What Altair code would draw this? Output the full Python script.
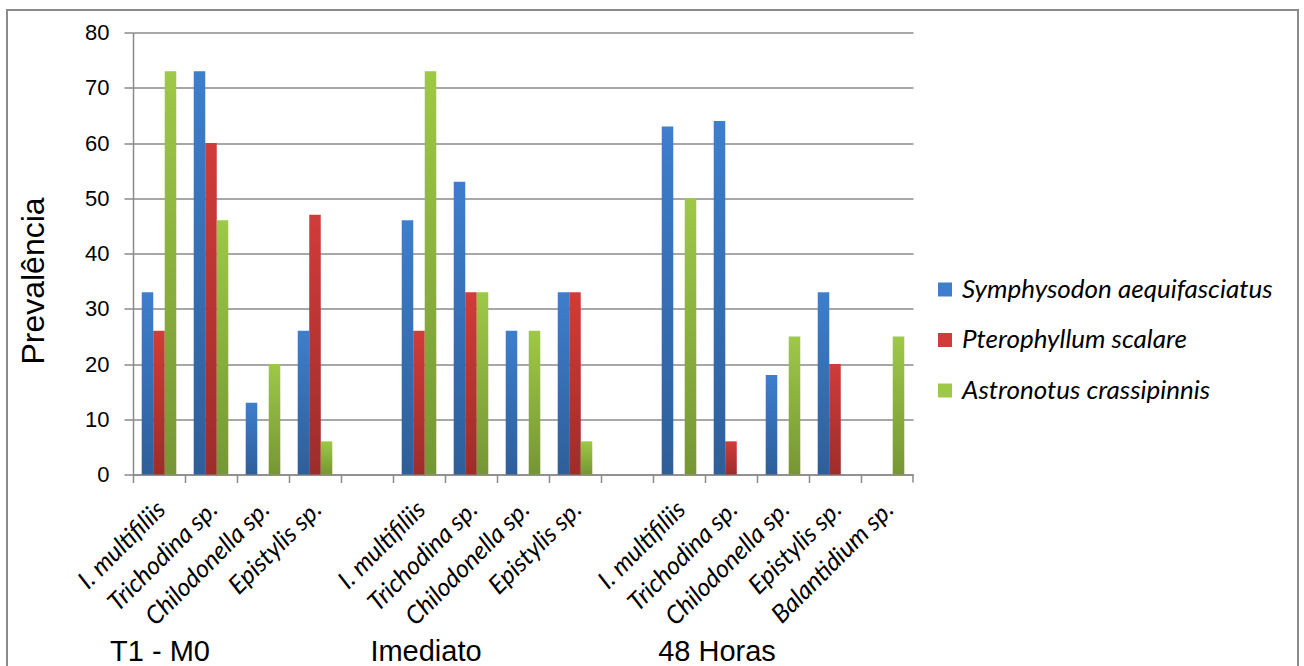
import altair as alt
import pandas as pd

# Category slots along the x axis (blank slots separate the three sampling times)
slot_labels = [
    "I. multifiliis", "Trichodina sp.", "Chilodonella sp.", "Epistylis sp.", "",
    "I. multifiliis", "Trichodina sp.", "Chilodonella sp.", "Epistylis sp.", "",
    "I. multifiliis", "Trichodina sp.", "Chilodonella sp.", "Epistylis sp.", "Balantidium sp.",
]
slots = [f"s{i:02d}" for i in range(len(slot_labels))]

series = ["Symphysodon aequifasciatus", "Pterophyllum scalare", "Astronotus crassipinnis"]

# Prevalence per slot for each fish species
symphysodon = [33, 73, 13, 26, None, 46, 53, 26, 33, None, 63, 64, 18, 33, 0]
pterophyllum = [26, 60, 0, 47, None, 26, 33, 0, 33, None, 0, 6, 0, 20, 0]
astronotus = [73, 46, 20, 6, None, 73, 33, 26, 6, None, 50, 0, 25, 0, 25]

# Sampling-time labels under each group
group_names = ["T1 - M0", "Imediato", "48 Horas"]
group_slots = ["s00", "s05", "s11"]
group_dx = [1, 7, -14]

rows = []
for name, vals in zip(series, [symphysodon, pterophyllum, astronotus]):
    for s, v in zip(slots, vals):
        if v is not None:
            rows.append({"slot": s, "series": name, "value": v})
df = pd.DataFrame(rows)

top_colors = ["#3d7ecd", "#d03c39", "#9ec847"]
GRAY = "#8a8a8a"
label_array = "[" + ",".join("'" + l + "'" for l in slot_labels) + "]"

x_enc = alt.X(
    "slot:N",
    scale=alt.Scale(domain=slots, paddingInner=0, paddingOuter=0),
    axis=alt.Axis(
        title=None,
        bandPosition=0,
        labelExpr=label_array + "[toNumber(slice(datum.value, 1))]",
        labelAngle=315,
        labelAlign="right",
        labelBaseline="top",
        labelPadding=14,
        labelOffset=-6,
        labelFont="Lato",
        labelFontStyle="italic",
        labelFontSize=25,
        labelColor="#000000",
        labelLimit=300,
        tickSize=8,
        tickColor=GRAY,
        tickWidth=1.5,
        domainColor=GRAY,
        domainWidth=1.5,
        grid=False,
    ),
)
xoff_enc = alt.XOffset(
    "series:N",
    scale=alt.Scale(domain=series, paddingInner=0, paddingOuter=0.76),
)
y_enc = alt.Y(
    "value:Q",
    scale=alt.Scale(domain=[0, 80], nice=False),
    axis=alt.Axis(
        title="Prevalência",
        values=list(range(0, 81, 10)),
        titleFont="Liberation Sans",
        titleFontSize=32,
        titleFontWeight="normal",
        titleColor="#000000",
        titlePadding=34,
        titleY=248,
        labelFont="Liberation Sans",
        labelFontSize=22,
        labelColor="#000000",
        labelPadding=15,
        tickSize=9,
        tickColor=GRAY,
        tickWidth=1.5,
        domainColor=GRAY,
        domainWidth=1.5,
        grid=True,
        gridColor=GRAY,
        gridWidth=1.5,
    ),
)

bars = alt.Chart(df).mark_bar().encode(
    x=x_enc,
    xOffset=xoff_enc,
    y=y_enc,
    color=alt.Color(
        "series:N",
        scale=alt.Scale(domain=series, range=top_colors),
        legend=alt.Legend(
            title=None,
            orient="none",
            legendX=799,
            legendY=244,
            symbolType="square",
            symbolSize=196,
            symbolStrokeWidth=0,
            labelFont="Lato",
            labelFontStyle="italic",
            labelFontSize=26,
            labelColor="#000000",
            labelOffset=4,
            rowPadding=24.5,
            labelLimit=400,
        ),
    ),
)

# Darkening toward the base of each bar
shade = alt.Gradient(
    gradient="linear", x1=0, x2=0, y1=0, y2=1,
    stops=[alt.GradientStop(color="rgba(0,0,0,0)", offset=0),
           alt.GradientStop(color="rgba(0,0,0,0.25)", offset=1)],
)
bar_shade = alt.Chart(df).mark_bar(color=shade).encode(
    x=x_enc, xOffset=xoff_enc, y=y_enc
)

dummy = pd.DataFrame({"k": [0]})

# Closing tick at the right end of the category axis
end_tick = alt.Chart(dummy).mark_rule(color=GRAY, strokeWidth=1.5).encode(
    x=alt.value(780), y=alt.value(442), y2=alt.value(450)
)

# Frame around the whole figure
frame = alt.Chart(dummy).mark_rect(
    fillOpacity=0, stroke=GRAY, strokeWidth=2
).encode(
    x=alt.value(-126), x2=alt.value(1165), y=alt.value(-22.5), y2=alt.value(700)
)

layers = [frame, bars, bar_shade, end_tick]

# Sampling-time labels, each nudged horizontally under its group
for s, lab, dx in zip(group_slots, group_names, group_dx):
    layers.append(
        alt.Chart(pd.DataFrame({"slot": [s], "label": [lab]})).mark_text(
            font="Liberation Sans", fontSize=29, color="#000000",
            align="center", baseline="alphabetic", dx=dx
        ).encode(x=alt.X("slot:N"), y=alt.value(628), text="label:N")
    )

chart = (
    alt.layer(*layers)
    .properties(
        width=780,
        height=442,
        autosize=alt.AutoSizeParams(type="none"),
        padding={"left": 133, "top": 32.5, "right": 391, "bottom": 191.5},
    )
    .configure_view(stroke=None)
)

chart.save("out.html", embed_options={"renderer": "svg", "actions": False})
